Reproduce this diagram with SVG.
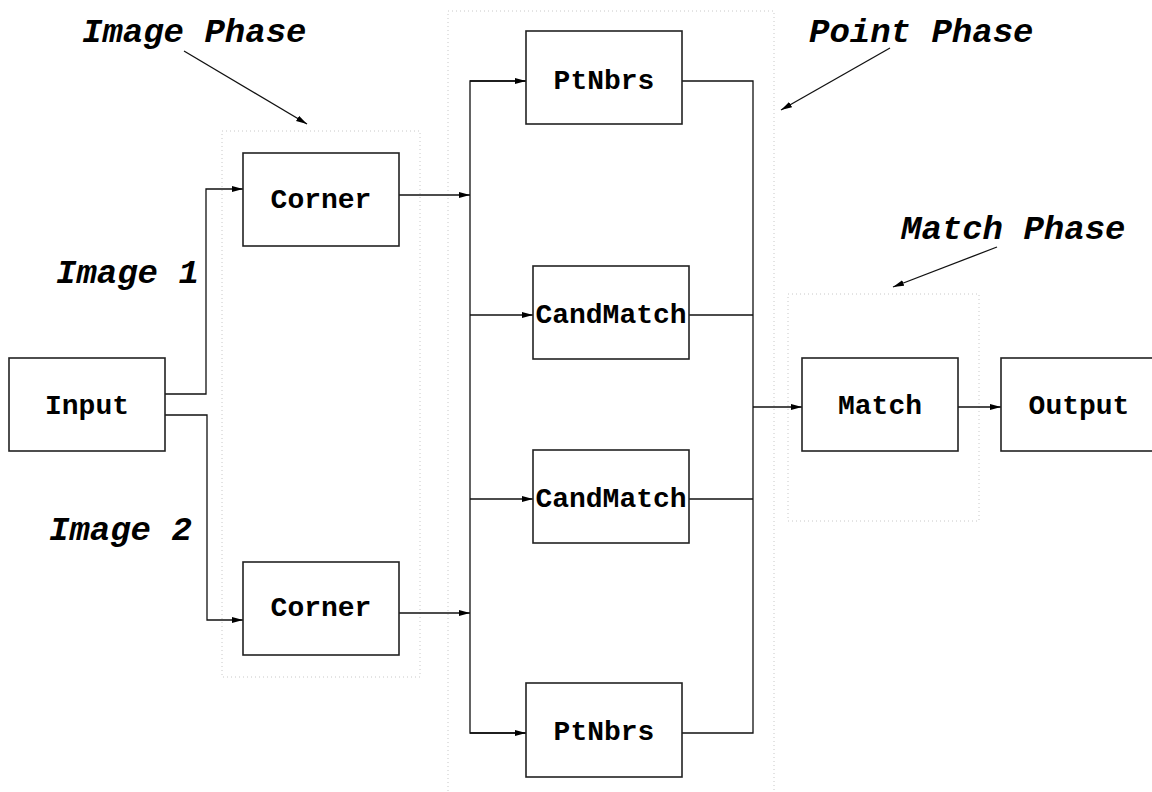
<svg xmlns="http://www.w3.org/2000/svg" width="1152" height="792" viewBox="0 0 1152 792">
  <style>
    .box { fill: #ffffff; stroke: #222222; stroke-width: 1.6; }
    .phase { fill: none; stroke: #c8c8c8; stroke-width: 1; stroke-dasharray: 1 3; }
    .wire { fill: none; stroke: #111111; stroke-width: 1.3; }
    .label { font-family: "Liberation Mono", "Courier New", monospace; font-weight: bold; font-size: 28px; fill: #000000; text-anchor: middle; dominant-baseline: central; }
    .title { font-family: "Liberation Mono", "Courier New", monospace; font-weight: bold; font-style: italic; font-size: 34px; fill: #000000; }
  </style>
  <defs>
    <marker id="arrow" viewBox="0 0 10 6" refX="10" refY="3" markerWidth="11" markerHeight="6.6" markerUnits="userSpaceOnUse" orient="auto">
      <path d="M0,0.3 L10,3 L0,5.7 Z" fill="#000000"/>
    </marker>
  </defs>
  <rect width="1152" height="792" fill="#ffffff"/>

  <!-- phase regions -->
  <g id="phases">
    <rect class="phase" x="222" y="131" width="198" height="546"/>
    <rect class="phase" x="448" y="11" width="326" height="800"/>
    <rect class="phase" x="788" y="294" width="191" height="227"/>
  </g>

  <!-- phase captions -->
  <g id="captions">
    <text class="title" x="82" y="42">Image Phase</text>
    <text class="title" x="809" y="42">Point Phase</text>
    <text class="title" x="901" y="239">Match Phase</text>
    <text class="title" x="56" y="283">Image 1</text>
    <text class="title" x="49" y="540">Image 2</text>
  </g>

  <!-- connectors -->
  <g id="connectors">
    <line class="wire" x1="184" y1="51" x2="307" y2="124" marker-end="url(#arrow)"/>
    <line class="wire" x1="890" y1="48" x2="781" y2="110" marker-end="url(#arrow)"/>
    <line class="wire" x1="997" y1="247" x2="893" y2="287" marker-end="url(#arrow)"/>

    <polyline class="wire" points="165,394 206,394 206,189 243,189" marker-end="url(#arrow)"/>
    <polyline class="wire" points="165,415 207,415 207,620 243,620" marker-end="url(#arrow)"/>

    <line class="wire" x1="399" y1="195" x2="470" y2="195" marker-end="url(#arrow)"/>
    <line class="wire" x1="399" y1="613" x2="470" y2="613" marker-end="url(#arrow)"/>

    <polyline class="wire" points="526,81 470,81 470,733 526,733"/>
    <line class="wire" x1="470" y1="81" x2="526" y2="81" marker-end="url(#arrow)"/>
    <line class="wire" x1="470" y1="315" x2="533" y2="315" marker-end="url(#arrow)"/>
    <line class="wire" x1="470" y1="499" x2="533" y2="499" marker-end="url(#arrow)"/>
    <line class="wire" x1="470" y1="733" x2="526" y2="733" marker-end="url(#arrow)"/>

    <polyline class="wire" points="682,81 753,81 753,733 682,733"/>
    <line class="wire" x1="689" y1="315" x2="753" y2="315"/>
    <line class="wire" x1="689" y1="499" x2="753" y2="499"/>

    <line class="wire" x1="753" y1="407" x2="802" y2="407" marker-end="url(#arrow)"/>
    <line class="wire" x1="958" y1="407" x2="1001" y2="407" marker-end="url(#arrow)"/>
  </g>

  <!-- nodes -->
  <g id="input">
    <rect class="box" x="9" y="358" width="156" height="93"/>
    <text class="label" x="87" y="406">Input</text>
  </g>
  <g id="corner1">
    <rect class="box" x="243" y="153" width="156" height="93"/>
    <text class="label" x="321" y="200">Corner</text>
  </g>
  <g id="corner2">
    <rect class="box" x="243" y="562" width="156" height="93"/>
    <text class="label" x="321" y="608">Corner</text>
  </g>
  <g id="ptnbrs1">
    <rect class="box" x="526" y="31" width="156" height="93"/>
    <text class="label" x="604" y="81">PtNbrs</text>
  </g>
  <g id="candmatch1">
    <rect class="box" x="533" y="266" width="156" height="93"/>
    <text class="label" x="611" y="315">CandMatch</text>
  </g>
  <g id="candmatch2">
    <rect class="box" x="533" y="450" width="156" height="93"/>
    <text class="label" x="611" y="499">CandMatch</text>
  </g>
  <g id="ptnbrs2">
    <rect class="box" x="526" y="683" width="156" height="94"/>
    <text class="label" x="604" y="732">PtNbrs</text>
  </g>
  <g id="match">
    <rect class="box" x="802" y="358" width="156" height="93"/>
    <text class="label" x="880" y="406">Match</text>
  </g>
  <g id="output">
    <rect class="box" x="1001" y="358" width="156" height="93"/>
    <text class="label" x="1079" y="406">Output</text>
  </g>
</svg>
